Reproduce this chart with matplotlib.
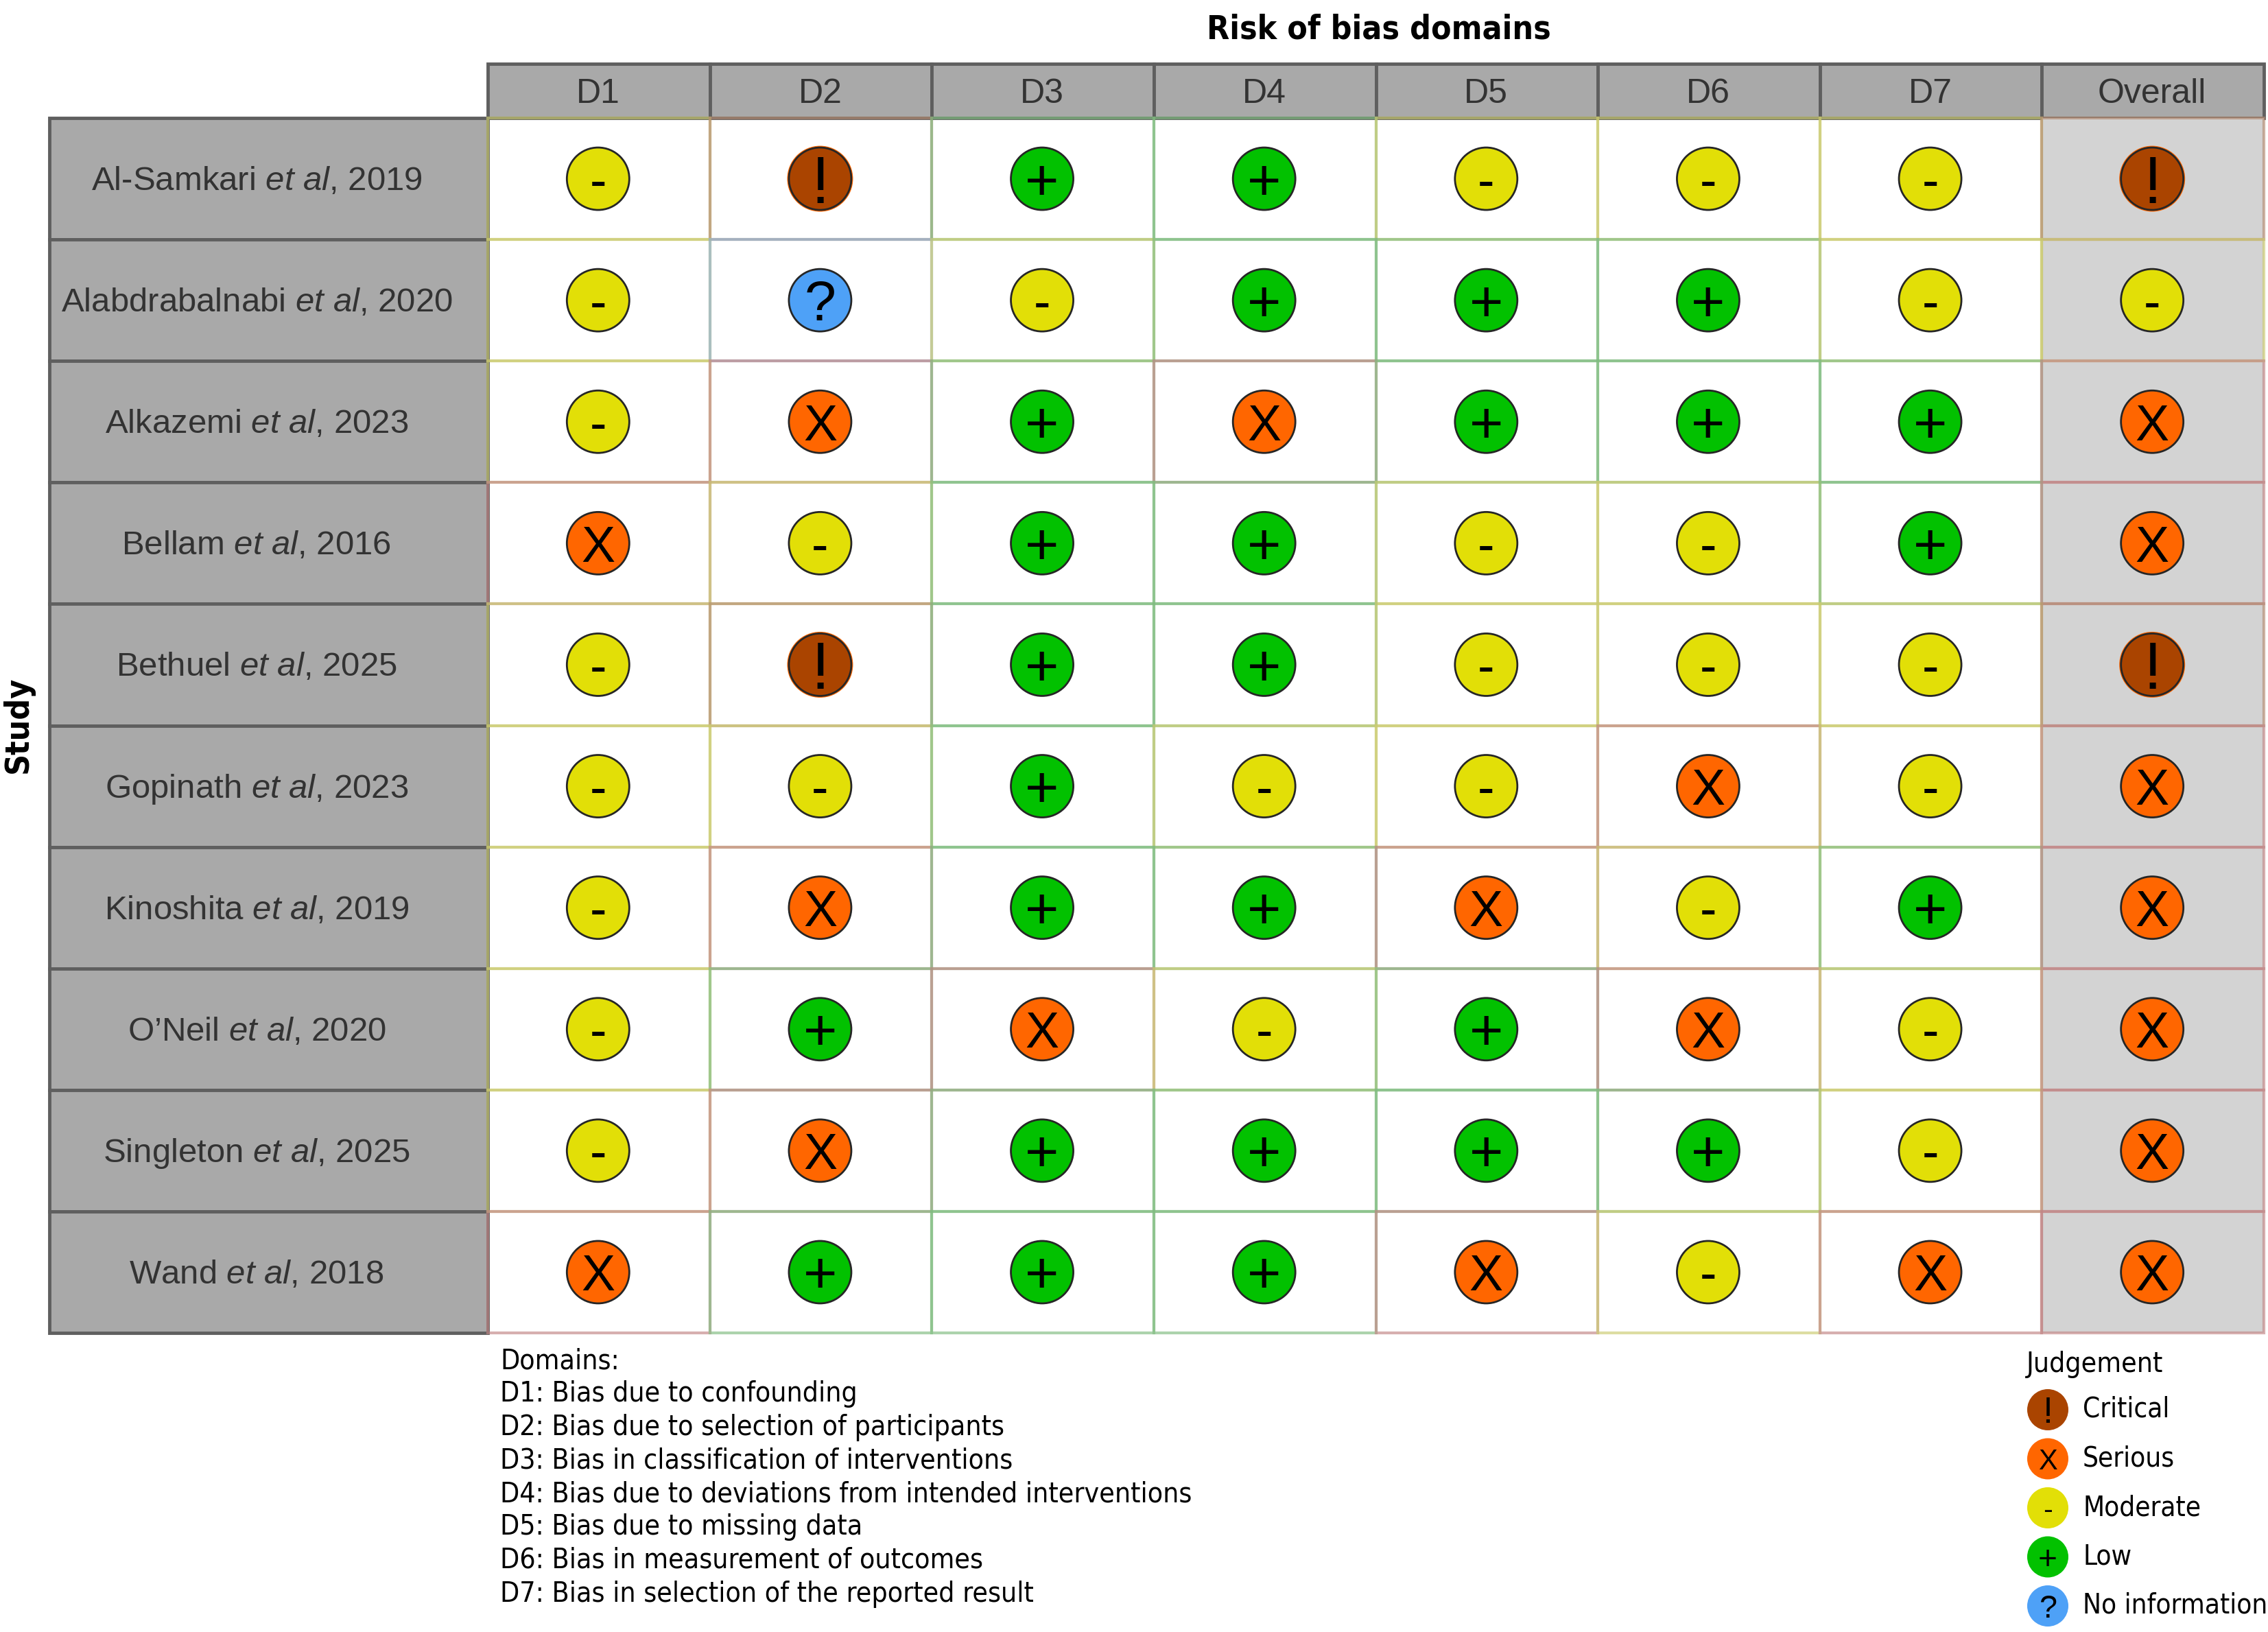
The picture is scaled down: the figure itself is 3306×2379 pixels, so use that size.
import matplotlib
matplotlib.use("Agg")
import matplotlib.pyplot as plt
from matplotlib.patches import Rectangle, Circle

plt.rcParams['font.family'] = ['DejaVu Sans']
plt.rcParams['mathtext.fontset'] = 'custom'
plt.rcParams['mathtext.it'] = 'Liberation Sans:italic'
plt.rcParams['mathtext.rm'] = 'Liberation Sans'

domains = ["D1", "D2", "D3", "D4", "D5", "D6", "D7", "Overall"]
studies = ["Al-Samkari", "Alabdrabalnabi", "Alkazemi", "Bellam", "Bethuel",
           "Gopinath", "Kinoshita", "O\u2019Neil", "Singleton", "Wand"]
years = [2019, 2020, 2023, 2016, 2025, 2023, 2019, 2020, 2025, 2018]
judgements = ["MCLLMMMC",
              "MNMLLLMM",
              "MSLSLLLS",
              "SMLLMMLS",
              "MCLLMMMC",
              "MMLMMSMS",
              "MSLLSMLS",
              "MLSMLSMS",
              "MSLLLLMS",
              "SLLLSMSS"]
domain_notes = ["Domains:",
                "D1: Bias due to confounding",
                "D2: Bias due to selection of participants",
                "D3: Bias in classification of interventions",
                "D4: Bias due to deviations from intended interventions",
                "D5: Bias due to missing data",
                "D6: Bias in measurement of outcomes",
                "D7: Bias in selection of the reported result"]
legend_keys = ["C", "S", "M", "L", "N"]
legend_names = ["Critical", "Serious", "Moderate", "Low", "No information"]

colours = {"C": "#AA4400", "S": "#FF6600", "M": "#E2DF07", "L": "#02C100", "N": "#4EA1F7"}
symbols = {"C": "!", "S": "X", "M": "-", "L": "+", "N": "?"}
border = {"C": "#B48A70", "S": "#C28585", "M": "#CCCB70", "L": "#80BC80", "N": "#8FB0D0"}
# symbol size relative to the X
sym_scale = {"C": 1.3, "S": 1.0, "M": 1.0, "L": 1.15, "N": 1.12}

W, H = 3306, 2379
LEFT, GRID_L, GRID_R = 72, 711, 3300
HEAD_T, GRID_T, GRID_B = 93, 172, 1943
cw = (GRID_R - GRID_L) / len(domains)
rh = (GRID_B - GRID_T) / len(studies)
label_font = 'Liberation Sans'
note_font = 'DejaVu Sans'

fig = plt.figure(figsize=(W / 100, H / 100), dpi=100)
ax = fig.add_axes([0, 0, 1, 1])
ax.set_xlim(0, W)
ax.set_ylim(H, 0)
ax.axis("off")


def marker(x, y, r, key, size, edge=True):
    if edge:
        # critical circles keep an orange rim outside the dark line
        if key == "C":
            ax.add_patch(Circle((x, y), r + 1, fc="#FF6600", ec="none", zorder=4))
        ax.add_patch(Circle((x, y), r - 1.5, fc=colours[key], ec="#262626", lw=2, zorder=5))
    else:
        ax.add_patch(Circle((x, y), r, fc=colours[key], ec="none", zorder=5))
    ax.text(x, y, symbols[key], ha="center", va="center_baseline", fontsize=size * sym_scale[key],
            family=label_font, color="black", zorder=6)


# header row
for j, d in enumerate(domains):
    x0 = GRID_L + j * cw
    ax.add_patch(Rectangle((x0, HEAD_T), cw, GRID_T - HEAD_T, fc="#A9A9A9", ec="#5F5F5F", lw=3.5))
    ax.text(x0 + cw / 2 - 1, (HEAD_T + GRID_T) / 2 + 4, d, ha="center", va="center",
            fontsize=36, family=label_font, color="#333333")

# overall column background
ax.add_patch(Rectangle((GRID_L + 7 * cw, GRID_T), cw, GRID_B - GRID_T, fc="#D3D3D3", ec="none"))

# study labels and cell borders
for i, (s, yr) in enumerate(zip(studies, years)):
    y0 = GRID_T + i * rh
    ax.add_patch(Rectangle((LEFT, y0), GRID_L - LEFT, rh, fc="#A9A9A9", ec="#5F5F5F", lw=3.5))
    ax.text(374, y0 + rh / 2 + 4, "%s $\\mathit{et\\ al}$, %d" % (s, yr),
            ha="center", va="center", fontsize=35.4, family=label_font, color="#333333")
    for j, key in enumerate(judgements[i]):
        x0 = GRID_L + j * cw
        ax.add_patch(Rectangle((x0, y0), cw, rh, fc="none", ec=border[key], lw=3, alpha=0.65, zorder=2))

# judgement circles
for i in range(len(studies)):
    y = GRID_T + (i + 0.5) * rh
    for j, key in enumerate(judgements[i]):
        marker(GRID_L + (j + 0.5) * cw - 1, y, 47, key, 53)

ax.text(2010, 43, "Risk of bias domains", ha="center", va="center",
        fontsize=34.5, fontweight="bold", family="DejaVu Sans", stretch="condensed")
ax.text(26, 1056, "Study", ha="center", va="center", rotation=90,
        fontsize=34.5, fontweight="bold", family="DejaVu Sans", stretch="condensed")

# domain notes
for k, line in enumerate(domain_notes):
    ax.text(729, 1984 + k * 48.5, line, ha="left", va="center", fontsize=29.3,
            family=note_font, stretch="condensed")

# legend
ax.text(2954, 1989, "Judgement", ha="left", va="center", fontsize=29.3,
        family=note_font, stretch="condensed")
for k, (key, name) in enumerate(zip(legend_keys, legend_names)):
    y = 2055 + k * 71.5
    marker(2985, y, 30, key, 30, edge=False)
    ax.text(3036, y, name, ha="left", va="center", fontsize=29,
            family=note_font, stretch="condensed")

fig.savefig("out.png", dpi=100)
